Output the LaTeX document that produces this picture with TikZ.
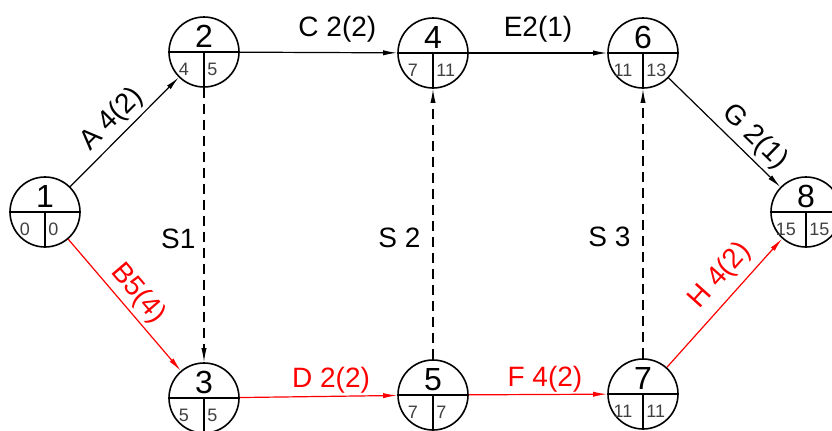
\documentclass[tikz,border=0pt]{standalone}
\usepackage{fontspec}
\setmainfont{Liberation Sans}
\usetikzlibrary{positioning, arrows.meta, calc}

\begin{document}
\begin{tikzpicture}[
        x=0.5pt, y=-0.5pt,
        % Styles for the network components
        event/.style={
            circle, draw, line width=0.8pt, fill=white,
            minimum size=35pt, inner sep=0pt,
            path picture={
                \draw[line width=0.8pt]
                    (path picture bounding box.west) -- (path picture bounding box.east)
                    (path picture bounding box.center) -- (path picture bounding box.south);
            }
        },
        number/.style={
            font=\fontsize{16}{16}\selectfont, inner sep=0pt, label distance=-16pt
        },
        early/.style={
            font=\fontsize{9}{9}\selectfont, text=black!75, inner sep=0pt
        },
        late/.style={
            early, anchor=west
        },
        activity/.style={
            -{Latex[length=7pt, width=2.6pt]}, line width=0.6pt
        },
        critical/.style={activity, red},
        dummy/.style={activity, dash pattern=on 5pt off 3pt},
        tag/.style={font=\fontsize{14}{14}\selectfont, inner sep=2pt}
    ]

    \useasboundingbox (0,0) rectangle (832,430);

    % 1. EVENTS
    \node[event, label={[number]90:1}] (n1) at (45, 212) {};
    \node[event, label={[number]90:2}] (n2) at (204, 52) {};
    \node[event, label={[number]90:3}] (n3) at (204, 398) {};
    \node[event, label={[number]90:4}] (n4) at (433, 53) {};
    \node[event, label={[number]90:5}] (n5) at (433, 395) {};
    \node[event, label={[number]90:6}] (n6) at (643, 53) {};
    \node[event, label={[number]90:7}] (n7) at (643, 394) {};
    \node[event, label={[number]90:8}] (n8) at (806, 212) {};

    % 2. EARLIEST AND LATEST TIMES
    \node[early] at ($(n1)+(-20,17)$) {0};
    \node[late]  at ($(n1)+(3,17)$)   {0};
    \node[early] at ($(n2)+(-20,17)$) {4};
    \node[late]  at ($(n2)+(3,17)$)   {5};
    \node[early] at ($(n3)+(-20,17)$) {5};
    \node[late]  at ($(n3)+(3,17)$)   {5};
    \node[early] at ($(n4)+(-20,17)$) {7};
    \node[late]  at ($(n4)+(3,17)$)   {11};
    \node[early] at ($(n5)+(-20,17)$) {7};
    \node[late]  at ($(n5)+(3,17)$)   {7};
    \node[early] at ($(n6)+(-20,17)$) {11};
    \node[late]  at ($(n6)+(3,17)$)   {13};
    \node[early] at ($(n7)+(-20,17)$) {11};
    \node[late]  at ($(n7)+(3,17)$)   {11};
    \node[early] at ($(n8)+(-20,17)$) {15};
    \node[late]  at ($(n8)+(3,17)$)   {15};

    % 3. ACTIVITIES (upper path)
    \draw[activity] (n1) -- node[tag, sloped, above, pos=0.5] {A 4(2)} (n2);
    \draw[activity] (n2) -- node[tag, above=3pt, pos=0.62] {C 2(2)} (n4);
    \draw[activity] (n4) -- node[tag, above=3pt] {E2(1)} (n6);
    \draw[activity] (n6) -- node[tag, sloped, above, pos=0.66] {G 2(1)} (n8);

    % 4. CRITICAL PATH (red)
    \draw[critical] (n1) -- node[tag, sloped, above, pos=0.5] {B5(4)} (n3);
    \draw[critical] (n3) -- node[tag, above=-1pt, pos=0.58] {D 2(2)} (n5);
    \draw[critical] (n5) -- node[tag, above=-1pt, pos=0.55] {F 4(2)} (n7);
    \draw[critical] (n7) -- node[tag, sloped, above=2pt, pos=0.6] {H 4(2)} (n8);

    % 5. DUMMY ACTIVITIES
    \draw[dummy] (n2) -- node[tag, left=2pt, pos=0.55] {S1} (n3);
    \draw[dummy] (n5) -- node[tag, left=4pt, pos=0.45] {S 2} (n4);
    \draw[dummy] (n7) -- node[tag, left=4pt, pos=0.45] {S 3} (n6);

\end{tikzpicture}
\end{document}
